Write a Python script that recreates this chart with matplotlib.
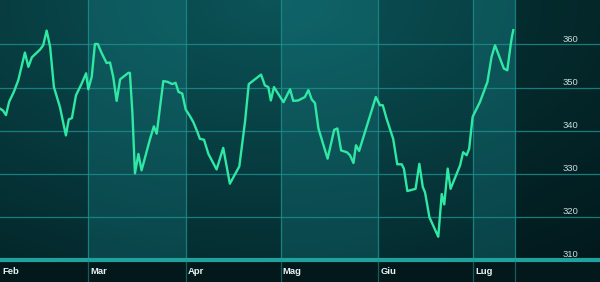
import numpy as np
import matplotlib
matplotlib.use("Agg")
import matplotlib.pyplot as plt

# Day offsets from 1 Feb and index values
days = [0, 0.9, 1.9, 2.9, 4.4, 5.8, 7.9, 9.0, 10.1, 12.7, 13.7, 14.8, 15.9, 17.1, 19.0,
        20.9, 21.8, 22.8, 24.1, 25.9, 27.3, 28.0, 29.1, 30.1, 31.0, 32.3, 33.8, 34.9,
        35.9, 37.0, 38.1, 40.7, 41.2, 42.0, 42.8, 43.9, 44.9, 47.6, 48.8, 49.7, 51.8,
        53.2, 54.6, 55.7, 56.6, 57.8, 58.9, 60.3, 61.3, 62.6, 63.4, 64.7, 66.1, 68.7,
        70.8, 72.9, 75.9, 77.7, 78.9, 82.8, 84.0, 85.1, 85.9, 86.9, 89.9, 92.0, 93.0,
        94.6, 96.7, 97.8, 98.9, 99.9, 101.0, 103.9, 106.0, 107.0, 108.2, 110.0, 111.0,
        112.1, 112.9, 113.9, 119.2, 120.5, 121.4, 122.6, 124.7, 126.0, 127.4, 128.1,
        129.2, 131.8, 133.0, 134.1, 134.8, 136.2, 139.0, 140.1, 140.9, 142.0, 142.9,
        145.9, 146.9, 148.0, 148.8, 149.9, 152.2, 154.6, 155.9, 157.0, 159.8, 160.9,
        162.0, 162.4, 162.8]
values = [345.1, 344.7, 343.6, 346.7, 349.0, 351.7, 358.1, 354.8, 357.0, 358.8, 359.8,
          363.2, 359.4, 350.1, 345.5, 338.9, 342.6, 342.9, 348.2, 350.9, 353.3, 349.6,
          352.5, 360.1, 360.1, 357.9, 355.7, 355.8, 352.5, 346.9, 351.9, 353.4, 353.4,
          344.0, 330.1, 334.6, 330.8, 338.1, 341.0, 339.3, 351.5, 351.3, 350.8, 351.1,
          349.0, 348.6, 344.9, 343.3, 342.0, 339.7, 338.1, 337.9, 334.6, 331.0, 336.0,
          327.7, 331.7, 342.0, 350.8, 353.0, 350.5, 350.1, 347.0, 350.1, 346.6, 349.6,
          346.9, 347.0, 347.8, 349.4, 347.2, 346.4, 340.5, 333.5, 340.2, 340.5, 335.4,
          335.0, 334.3, 332.5, 336.6, 335.3, 347.8, 345.9, 345.9, 342.8, 338.1, 332.2,
          332.2, 331.2, 326.0, 326.5, 332.3, 326.9, 325.7, 319.9, 315.4, 325.3, 322.9,
          331.2, 326.5, 331.9, 335.0, 334.3, 335.8, 343.2, 346.6, 351.3, 357.1, 359.8,
          354.4, 354.0, 360.1, 361.9, 363.3]

month_pos = [0, 28, 59, 89, 120, 150]
month_labels = ["Feb", "Mar", "Apr", "Mag", "Giu", "Lug"]
y_ticks = [310, 320, 330, 340, 350, 360]
data_end = 163.3

X_MAX = 190.3
Y_MIN, Y_MAX = 310, 370.3

fig = plt.figure(figsize=(6, 2.82), dpi=100)
fig.patch.set_facecolor("#03181a")
ax = fig.add_axes([0, 22 / 282, 1, 260 / 282])
ax.set_xlim(0, X_MAX)
ax.set_ylim(Y_MIN, Y_MAX)

# Background gradient (teal, lighter at top-centre)
h, w = 200, 300
yy, xx = np.mgrid[0:1:h * 1j, 0:1:w * 1j]
dist = np.sqrt(((xx - 0.45) / 0.95) ** 2 + ((yy - 0.0) / 1.25) ** 2)
t = np.clip(dist, 0, 1)
top = np.array([11, 84, 88]) / 255
bot = np.array([3, 36, 40]) / 255
img = top[None, None, :] * (1 - t[..., None]) + bot[None, None, :] * t[..., None]
ax.imshow(img, extent=[0, 1, 0, 1], transform=ax.transAxes, aspect="auto",
          zorder=0, origin="upper")

# Alternating month bands
bands = [(month_pos[1], month_pos[2]), (month_pos[3], month_pos[4]), (month_pos[5], data_end)]
for a, b in bands:
    ax.axvspan(a, b, color="#1fa2a8", alpha=0.22, lw=0, zorder=1)
ax.axvspan(data_end, X_MAX, color="black", alpha=0.3, lw=0, zorder=1)

# Grid
grid_c = "#1b8d8a"
for v in y_ticks[1:]:
    ax.axhline(v, color=grid_c, lw=0.9, alpha=0.85, zorder=2)
for d in month_pos[1:] + [data_end]:
    ax.axvline(d, color=grid_c, lw=0.9, alpha=0.85, zorder=2)

# Line
ax.plot(days, values, color="#2fe8a4", lw=1.7, zorder=4, solid_joinstyle="round")

# Spines / bottom line
for s in ax.spines.values():
    s.set_visible(False)
ax.axhline(Y_MIN, color="#1fa29e", lw=3, zorder=3, clip_on=False)

ax.set_xticks([])
ax.set_yticks([])

# Y labels
for v in y_ticks:
    ax.text(178.5, v + 1.2, str(v), color="#c9dada", fontsize=6.8,
            family="Liberation Sans", ha="left", va="center", zorder=5)

# X labels in bottom strip
for d, lab in zip(month_pos, month_labels):
    x_fig = d / X_MAX
    fig.text(x_fig + 2 / 600, 11 / 282, lab, color="#e8f0f0", fontsize=6.8,
             fontweight="bold", family="Liberation Sans", ha="left", va="center")

# vertical grid continues through bottom strip
for d in month_pos[1:] + [data_end]:
    x_fig = d / X_MAX
    fig.add_artist(plt.Line2D([x_fig, x_fig], [0, 22 / 282], color=grid_c, lw=0.9, alpha=0.6))

fig.savefig("out.png", dpi=100, facecolor=fig.get_facecolor())
